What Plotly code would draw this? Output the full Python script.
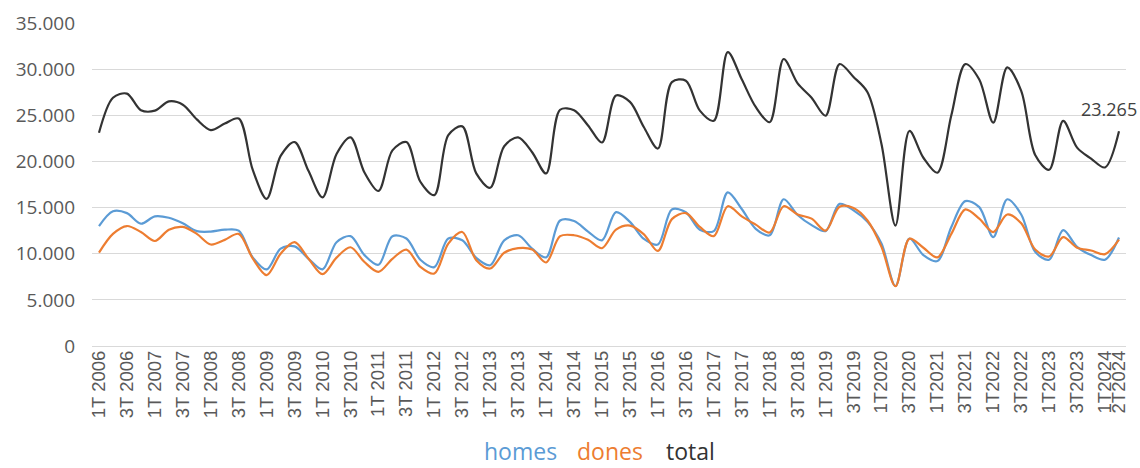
import plotly.graph_objects as go

quarters = [
    "1T 2006", "2T 2006", "3T 2006", "4T 2006",
    "1T 2007", "2T 2007", "3T 2007", "4T 2007",
    "1T 2008", "2T 2008", "3T 2008", "4T 2008",
    "1T 2009", "2T 2009", "3T 2009", "4T 2009",
    "1T 2010", "2T 2010", "3T 2010", "4T 2010",
    "1T 2011", "2T 2011", "3T 2011", "4T 2011",
    "1T 2012", "2T 2012", "3T 2012", "4T 2012",
    "1T 2013", "2T 2013", "3T 2013", "4T 2013",
    "1T 2014", "2T 2014", "3T 2014", "4T 2014",
    "1T 2015", "2T 2015", "3T 2015", "4T 2015",
    "1T 2016", "2T 2016", "3T 2016", "4T 2016",
    "1T 2017", "2T 2017", "3T 2017", "4T 2017",
    "1T 2018", "2T 2018", "3T 2018", "4T 2018",
    "1T 2019", "2T 2019", "3T2019", "4T2019",
    "1T2020", "2T2020", "3T2020", "4T2020",
    "1T2021", "2T2021", "3T2021", "4T2021",
    "1T2022", "2T2022", "3T2022", "4T2022",
    "1T2023", "2T2023", "3T2023", "4T2023",
    "1T2024", "2T2024",
]

homes = [
    13000, 14600, 14400, 13250, 14050, 13900, 13300, 12450,
    12400, 12600, 12500, 9600, 8300, 10550, 10800, 9450,
    8300, 11250, 11900, 9850, 8800, 11900, 11650, 9350,
    8550, 11650, 11450, 9550, 8750, 11450, 12000, 10550,
    9600, 13600, 13550, 12400, 11450, 14500, 13450, 11600,
    11000, 14800, 14500, 12600, 12450, 16650, 14850, 12700,
    12000, 15900, 14200, 13100, 12450, 15400, 14700, 13450,
    11100, 6500, 11650, 9850, 9200, 12900, 15700, 15050,
    11800, 15900, 14250, 10200, 9350, 12550, 10750, 9850,
    9350, 11750,
]

dones = [
    10120, 12150, 13000, 12350, 11380, 12600, 12900, 12150,
    11000, 11500, 12150, 9500, 7680, 10000, 11250, 9450,
    7780, 9580, 10700, 9100, 8030, 9450, 10450, 8570,
    7850, 11100, 12350, 9300, 8400, 10100, 10600, 10450,
    9050, 11900, 12000, 11500, 10600, 12600, 13050, 12100,
    10300, 13750, 14400, 12900, 11900, 15150, 14050, 13150,
    12300, 15150, 14250, 13800, 12500, 15100, 14950, 13600,
    10750, 6480, 11620, 10650, 9600, 12150, 14800, 13800,
    12350, 14250, 13300, 10450, 9700, 11800, 10650, 10350,
    9950, 11515,
]

total = [
    23100, 26900, 27350, 25550, 25500, 26500, 26150, 24550,
    23400, 24100, 24650, 19100, 15950, 20600, 22100, 18950,
    16100, 20800, 22600, 18800, 16800, 21200, 22100, 17800,
    16350, 22850, 23800, 18700, 17150, 21650, 22600, 21000,
    18700, 25600, 25550, 23900, 22050, 27150, 26450, 23700,
    21400, 28600, 28750, 25500, 24400, 31850, 28900, 25900,
    24250, 31100, 28450, 26900, 24950, 30550, 29150, 27500,
    21900, 13050, 23300, 20400, 18780, 25000, 30550, 28880,
    24200, 30200, 27650, 20700, 19100, 24400, 21500, 20300,
    19350, 23265,
]

last_label = "23.265"
series_names = ["homes", "dones", "total"]
y_ticks = [0, 5000, 10000, 15000, 20000, 25000, 30000, 35000]
y_ticktext = ["0", "5.000", "10.000", "15.000", "20.000", "25.000", "30.000", "35.000"]

x_tickvals = quarters[::2] + [quarters[-1]]

BLUE = "#5B9BD5"
ORANGE = "#ED7D31"
DARK = "#333333"
GRAY = "#595959"
colors = [BLUE, ORANGE, DARK]

L, R, T, B = 92, 14, 23, 122
W, H = 1140, 468
PW, PH = W - L - R, H - T - B

fig = go.Figure()
for name, vals, col in zip(series_names, [homes, dones, total], colors):
    fig.add_trace(go.Scatter(
        x=quarters, y=vals, name=name, mode="lines",
        line=dict(color=col, width=2.2, shape="spline", smoothing=0.9),
        showlegend=False,
    ))

fig.add_annotation(
    x=quarters[-1], y=total[-1], text=last_label, showarrow=False,
    xshift=-10, yshift=22, font=dict(family="Open Sans", size=18, color="#404040"),
)

# legend drawn as coloured text (no line symbols), as in the reference
legend_centers_px = [520, 610, 690]
for name, col, cx in zip(series_names, colors, legend_centers_px):
    fig.add_annotation(
        xref="paper", yref="paper", x=(cx - L) / PW, y=(H - B - 451) / PH,
        xanchor="center", yanchor="middle", showarrow=False, borderpad=0,
        text=name, font=dict(family="Open Sans", size=23, color=col),
    )

fig.update_layout(
    width=W, height=H,
    margin=dict(l=L, r=R, t=T, b=B, autoexpand=False),
    paper_bgcolor="white", plot_bgcolor="white",
    font=dict(family="Open Sans", color=GRAY),
    xaxis=dict(
        type="category", range=[-0.5, len(quarters) - 0.5], automargin=False,
        tickmode="array", tickvals=x_tickvals, ticktext=x_tickvals,
        tickangle=-90, showgrid=False, showline=False, zeroline=False,
        ticks="", tickfont=dict(family="Liberation Sans", size=18.5, color=GRAY),
    ),
    yaxis=dict(
        range=[0, 35000], tickmode="array", tickvals=y_ticks, ticktext=y_ticktext,
        automargin=False,
        showgrid=True, gridcolor="#D9D9D9", gridwidth=1.3,
        zeroline=True, zerolinecolor="#D9D9D9", zerolinewidth=1.3,
        showline=False, ticks="", ticklabelstandoff=16,
        tickfont=dict(family="Open Sans", size=19, color=GRAY),
    ),
)

fig.write_html(
    "out.html",
    config={"displayModeBar": False},
    post_script="document.body.style.margin='0px';document.body.style.overflow='hidden';",
)
